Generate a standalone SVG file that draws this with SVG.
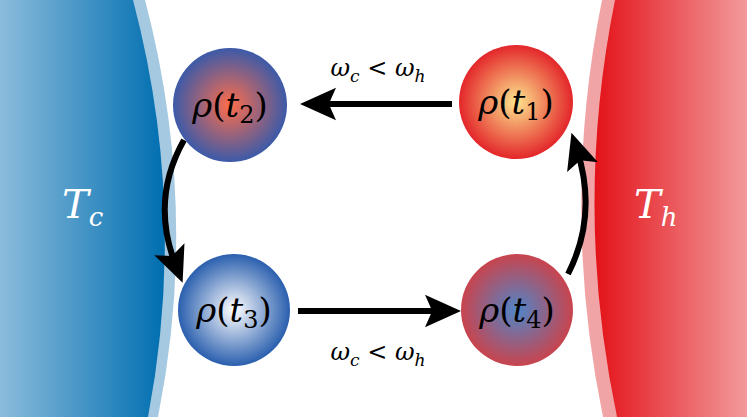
<svg xmlns="http://www.w3.org/2000/svg" width="747" height="417" viewBox="0 0 747 417">
<defs>
<linearGradient id="gc" x1="0" x2="1"><stop offset="0" stop-color="#8bbcdc"/><stop offset="1" stop-color="#006eb0"/></linearGradient>
<linearGradient id="gh" x1="0" x2="1"><stop offset="0" stop-color="#e31218"/><stop offset="1" stop-color="#f29a9c"/></linearGradient>
<radialGradient id="n1"><stop offset="0" stop-color="#fde58e"/><stop offset="1" stop-color="#e3262a"/></radialGradient>
<radialGradient id="n2"><stop offset="0" stop-color="#ff6d4a"/><stop offset="1" stop-color="#3c5aa8"/></radialGradient>
<radialGradient id="n3"><stop offset="0" stop-color="#ffffff"/><stop offset="1" stop-color="#2a5fae"/></radialGradient>
<radialGradient id="n4"><stop offset="0" stop-color="#4f86c8"/><stop offset="1" stop-color="#c8444e"/></radialGradient>
<marker id="ah" markerWidth="6" markerHeight="6" refX="3" refY="3" orient="auto" markerUnits="strokeWidth" viewBox="0 0 6 6"><path d="M0,0.3 L6,3 L0,5.7 L1.2,3 Z" fill="#000"/></marker>
<style>
.m{font-family:"DejaVu Serif","Liberation Serif",serif;font-style:italic;fill:#000}
.u{font-style:normal}
.c{stroke:#000;fill:none;stroke-width:6}
.w{font-family:"DejaVu Serif","Liberation Serif",serif;font-style:italic;fill:#fff;font-size:40px}
</style>
</defs>
<g id="cold">
<path d="M0,0 H145 Q200,208 158,417 H0 Z" fill="#a4c9e1"/>
<path d="M0,0 H133 Q188,208 148,417 H0 Z" fill="url(#gc)"/>
<text class="w" x="62" y="218">T<tspan font-size="26" dy="8">c</tspan></text>
</g>
<g id="hot">
<path d="M747,0 H602 Q560,208 603,417 H747 Z" fill="#f1a4a6"/>
<path d="M747,0 H615 Q573,208 617,417 H747 Z" fill="url(#gh)"/>
<text class="w" x="634" y="218">T<tspan font-size="26" dy="8">h</tspan></text>
</g>
<g id="connectors">
<line class="c" x1="452" y1="104" x2="318" y2="104" marker-end="url(#ah)"/>
<line class="c" x1="298" y1="311" x2="443" y2="311" marker-end="url(#ah)"/>
<path class="c" d="M184,140 Q150,200 176,266" marker-end="url(#ah)"/>
<path class="c" d="M568,274 Q598,215 577,150" marker-end="url(#ah)"/>
<text class="m" x="378" y="76" font-size="24" text-anchor="middle">ω<tspan font-size="17" dy="6">c</tspan><tspan class="u" dy="-6"> &lt; </tspan>ω<tspan font-size="17" dy="6">h</tspan></text>
<text class="m" x="378" y="360" font-size="24" text-anchor="middle">ω<tspan font-size="17" dy="6">c</tspan><tspan class="u" dy="-6"> &lt; </tspan>ω<tspan font-size="17" dy="6">h</tspan></text>
</g>
<g id="n_t1"><circle cx="516" cy="102" r="57" fill="url(#n1)"/><text class="m" x="516" y="114" font-size="34" text-anchor="middle">ρ<tspan class="u">(</tspan>t<tspan class="u" font-size="24" dy="6">1</tspan><tspan class="u" dy="-6">)</tspan></text></g>
<g id="n_t2"><circle cx="230" cy="105" r="57" fill="url(#n2)"/><text class="m" x="230" y="117" font-size="34" text-anchor="middle">ρ<tspan class="u">(</tspan>t<tspan class="u" font-size="24" dy="6">2</tspan><tspan class="u" dy="-6">)</tspan></text></g>
<g id="n_t3"><circle cx="234" cy="310" r="56" fill="url(#n3)"/><text class="m" x="234" y="322" font-size="34" text-anchor="middle">ρ<tspan class="u">(</tspan>t<tspan class="u" font-size="24" dy="6">3</tspan><tspan class="u" dy="-6">)</tspan></text></g>
<g id="n_t4"><circle cx="517" cy="310" r="56" fill="url(#n4)"/><text class="m" x="517" y="322" font-size="34" text-anchor="middle">ρ<tspan class="u">(</tspan>t<tspan class="u" font-size="24" dy="6">4</tspan><tspan class="u" dy="-6">)</tspan></text></g>
</svg>
